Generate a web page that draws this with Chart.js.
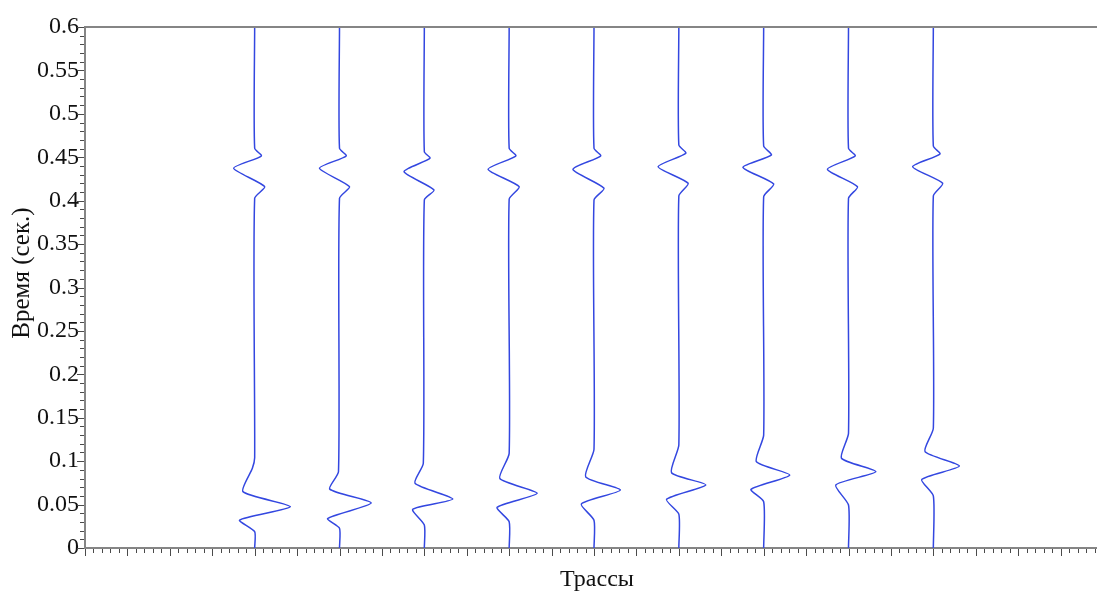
<!DOCTYPE html>
<html>
<head>
<meta charset="utf-8">
<title>Трассы</title>
<script src="https://cdn.jsdelivr.net/npm/chart.js@4.4.1/dist/chart.umd.min.js"></script>
<style>
  html, body { margin: 0; padding: 0; background: #ffffff; overflow: hidden; }
  #wrap { position: absolute; left: 0; top: 0; width: 1103px; height: 594px; }
</style>
</head>
<body>
<div id="wrap"><canvas id="chart" width="1103" height="594"></canvas></div>
<script>
// Trace positions along the horizontal axis
const traceBase = [2, 3, 4, 5, 6, 7, 8, 9, 10];

// Time samples (s) and amplitude (trace units) for each trace
const trace1Time = [0, 0.0188, 0.0322, 0.0476, 0.0649, 0.0918, 0.104, 0.4027, 0.4161, 0.4373, 0.4515, 0.4603, 0.6];
const trace1Amp  = [0, 0, -0.177, 0.421, -0.138, -0.027, 0, 0, 0.118, -0.248, 0.079, 0, 0];

const trace2Time = [0, 0.0227, 0.034, 0.0518, 0.0678, 0.0878, 0.4027, 0.4161, 0.4373, 0.4515, 0.4603, 0.6];
const trace2Amp  = [0, 0, -0.140, 0.374, -0.115, -0.012, 0, 0.118, -0.236, 0.079, 0, 0];

const trace3Time = [0, 0.0265, 0.0446, 0.0564, 0.0745, 0.0975, 0.4008, 0.4123, 0.4334, 0.4488, 0.4564, 0.6];
const trace3Amp  = [0, 0, -0.137, 0.335, -0.110, -0.012, 0, 0.114, -0.239, 0.067, 0, 0];

const trace4Time = [0, 0.0303, 0.0469, 0.063, 0.080, 0.109, 0.4016, 0.4161, 0.4361, 0.4515, 0.4603, 0.6];
const trace4Amp  = [0, 0, -0.142, 0.330, -0.110, 0, 0, 0.118, -0.248, 0.079, 0, 0];

const trace5Time = [0, 0.032, 0.0507, 0.0668, 0.082, 0.1137, 0.4008, 0.4143, 0.4361, 0.4515, 0.4603, 0.6];
const trace5Amp  = [0, 0, -0.149, 0.311, -0.098, 0, 0, 0.118, -0.248, 0.079, 0, 0];

const trace6Time = [0, 0.039, 0.056, 0.0726, 0.0867, 0.1186, 0.4054, 0.42, 0.4391, 0.4546, 0.4641, 0.6];
const trace6Amp  = [0, 0, -0.145, 0.318, -0.086, 0, 0, 0.110, -0.244, 0.083, 0, 0];

const trace7Time = [0, 0.0533, 0.0676, 0.084, 0.0994, 0.130, 0.4046, 0.4192, 0.4384, 0.4526, 0.463, 0.6];
const trace7Amp  = [0, 0, -0.149, 0.307, -0.086, 0, 0, 0.118, -0.244, 0.091, 0, 0];

const trace8Time = [0, 0.0495, 0.0726, 0.0879, 0.1033, 0.132, 0.4027, 0.4161, 0.4361, 0.4515, 0.4603, 0.6];
const trace8Amp  = [0, 0, -0.150, 0.322, -0.083, 0, 0, 0.106, -0.248, 0.079, 0, 0];

const trace9Time = [0, 0.06, 0.079, 0.0944, 0.111, 0.138, 0.4054, 0.42, 0.4391, 0.4537, 0.463, 0.6];
const trace9Amp  = [0, 0, -0.137, 0.307, -0.098, 0, 0, 0.110, -0.244, 0.079, 0, 0];

const traceTimes = [trace1Time, trace2Time, trace3Time, trace4Time, trace5Time, trace6Time, trace7Time, trace8Time, trace9Time];
const traceAmps  = [trace1Amp, trace2Amp, trace3Amp, trace4Amp, trace5Amp, trace6Amp, trace7Amp, trace8Amp, trace9Amp];

// Axis texts
const xTitle = 'Трассы';
const yTitle = 'Время (сек.)';

const AXIS_COLOR = '#858585';
const TRACE_COLOR = '#3347e0';
const SERIF = '"Liberation Serif", "DejaVu Serif", serif';

const datasets = traceBase.map((base, i) => ({
  label: 'Трасса ' + (i + 1),
  data: traceTimes[i].map((t, j) => ({ x: base + traceAmps[i][j], y: t })),
  showLine: true,
  borderColor: TRACE_COLOR,
  borderWidth: 1.5,
  pointRadius: 0,
  tension: 0.2
}));

// Frame line on top plus major/minor tick marks and axis titles
const frameAndTicks = {
  id: 'frameAndTicks',
  afterDraw(chart) {
    const ctx = chart.ctx;
    const area = chart.chartArea;
    const xs = chart.scales.x;
    const ys = chart.scales.y;
    ctx.save();
    ctx.strokeStyle = AXIS_COLOR;
    ctx.lineWidth = 2;
    ctx.beginPath();
    ctx.moveTo(area.left, area.top);
    ctx.lineTo(area.right, area.top);
    ctx.stroke();

    ctx.lineWidth = 1;
    ctx.strokeStyle = '#4a4a4a';
    ctx.beginPath();
    for (let k = 0; k <= 120; k++) {
      const px = Math.round(xs.getPixelForValue(k / 10)) + 0.5;
      const len = (k % 5 === 0) ? 7 : 4;
      ctx.moveTo(px, area.bottom + 1);
      ctx.lineTo(px, area.bottom + 1 + len);
    }
    for (let k = 0; k <= 60; k++) {
      const py = Math.round(ys.getPixelForValue(k / 100)) + 0.5;
      const len = (k % 5 === 0) ? 7 : 4;
      ctx.moveTo(area.left - 1, py);
      ctx.lineTo(area.left - 1 - len, py);
    }
    ctx.stroke();

    ctx.fillStyle = '#111111';
    ctx.textAlign = 'center';
    ctx.textBaseline = 'middle';
    ctx.font = '24px ' + SERIF;
    ctx.fillText(xTitle, 597, 580);
    ctx.font = '25px ' + SERIF;
    ctx.translate(22, 273);
    ctx.rotate(-Math.PI / 2);
    ctx.fillText(yTitle, 0, 0);
    ctx.restore();
  }
};

new Chart(document.getElementById('chart'), {
  type: 'scatter',
  data: { datasets },
  options: {
    responsive: false,
    animation: false,
    layout: { padding: { top: 27, right: 0, left: 0, bottom: 0 } },
    plugins: {
      legend: { display: false },
      tooltip: { enabled: false }
    },
    scales: {
      x: {
        type: 'linear',
        min: 0,
        max: 12,
        ticks: { display: false },
        grid: { display: false, drawTicks: false },
        border: { display: true, color: AXIS_COLOR, width: 2 },
        afterFit(scale) { scale.height = 46; }
      },
      y: {
        type: 'linear',
        min: 0,
        max: 0.6,
        ticks: {
          stepSize: 0.05,
          padding: 6,
          color: '#111111',
          font: { family: SERIF, size: 24 },
          callback: (v) => String(Math.round(v * 100) / 100)
        },
        grid: { display: false, drawTicks: false },
        border: { display: true, color: AXIS_COLOR, width: 2 },
        afterFit(scale) { scale.width = 85; }
      }
    }
  },
  plugins: [frameAndTicks]
});
</script>
</body>
</html>
